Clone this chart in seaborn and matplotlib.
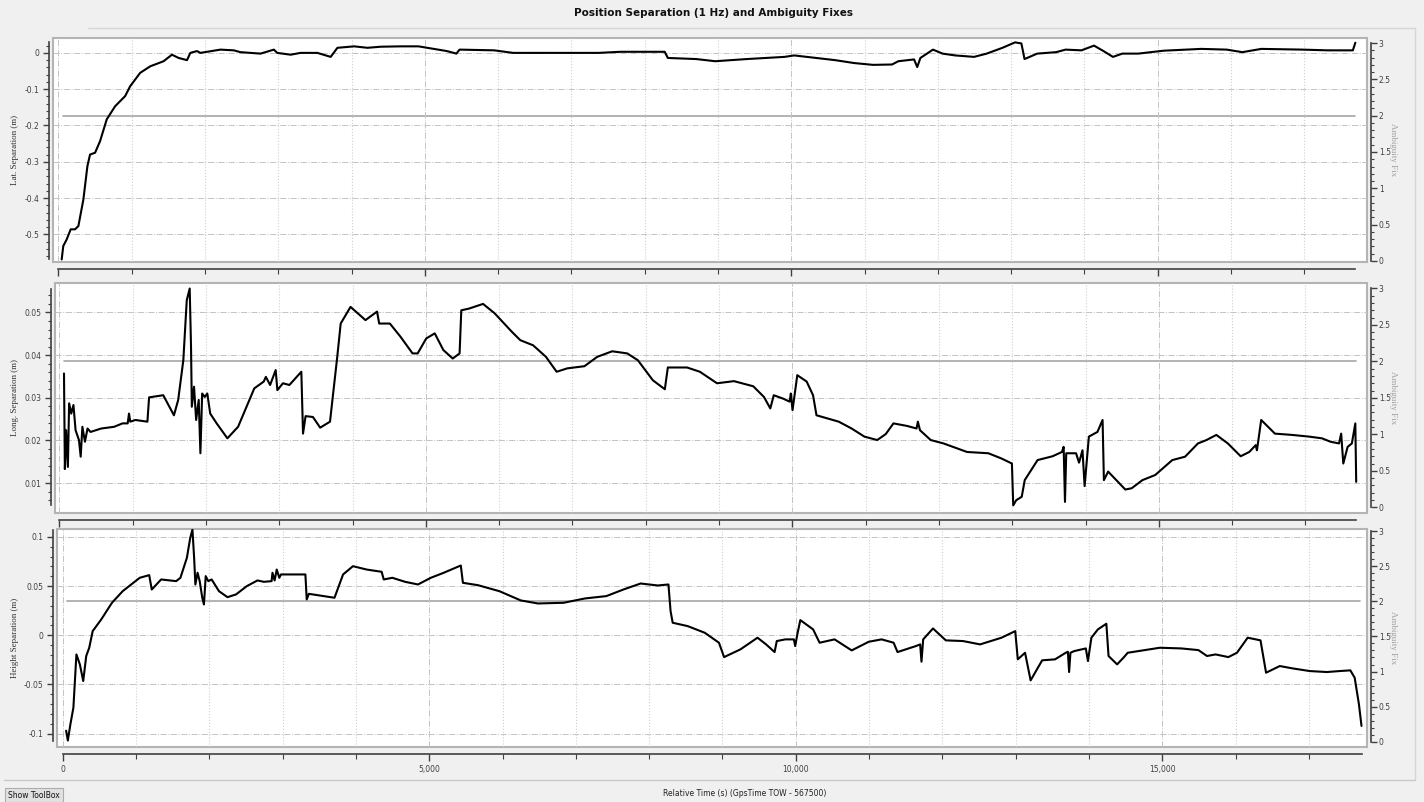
import numpy as np
import pandas as pd
import matplotlib
matplotlib.use("Agg")
import matplotlib.pyplot as plt
from matplotlib.lines import Line2D
from matplotlib.ticker import FixedLocator, FuncFormatter
import seaborn as sns

sns.set_theme(style="white")
plt.rcParams["font.family"] = ["DejaVu Sans"]

# ---- values ----
lat_time = [46, 68, 114, 169, 228, 274, 342, 397, 433, 502, 570, 661, 775, 912, 980,
            1117, 1254, 1436, 1550, 1642, 1756, 1801, 1892, 1938, 2212, 2394, 2485,
            2759, 2941, 2987, 3169, 3306, 3534, 3716, 3808, 4036, 4218, 4400, 4674,
            4914, 5301, 5431, 5474, 5947, 6206, 6981, 7369, 7670, 8273, 8316, 8704,
            8962, 9393, 9651, 9909, 10039, 10125, 10598, 10857, 11115, 11374, 11460,
            11675, 11718, 11761, 11933, 12063, 12235, 12493, 12666, 12881, 13053,
            13139, 13182, 13355, 13613, 13742, 13958, 14130, 14259, 14388, 14517,
            14733, 15077, 15594, 15939, 16154, 16412, 16972, 17317, 17661, 17695]
lat_sep = [-0.569, -0.532, -0.514, -0.486, -0.486, -0.477, -0.404, -0.312, -0.280,
           -0.275, -0.243, -0.183, -0.147, -0.119, -0.092, -0.055, -0.037, -0.023,
           -0.005, -0.014, -0.020, 0.0, 0.005, 0.0, 0.009, 0.007, 0.002, -0.002,
           0.009, 0.0, -0.005, 0.0, 0.0, -0.011, 0.014, 0.018, 0.014, 0.017, 0.018,
           0.018, 0.005, -0.002, 0.009, 0.007, 0.0, 0.0, 0.0, 0.003, 0.003, -0.014,
           -0.017, -0.023, -0.017, -0.014, -0.011, -0.007, -0.009, -0.020, -0.028,
           -0.033, -0.032, -0.023, -0.018, -0.039, -0.014, 0.009, -0.002, -0.007,
           -0.011, -0.002, 0.014, 0.029, 0.026, -0.017, -0.002, 0.002, 0.009, 0.007,
           0.020, 0.005, -0.011, -0.002, -0.002, 0.006, 0.011, 0.009, 0.002, 0.011,
           0.009, 0.007, 0.007, 0.028]

long_time = [64, 76, 93, 117, 134, 163, 193, 222, 268, 292, 315, 350, 385, 426, 572,
             747, 863, 933, 951, 968, 1038, 1202, 1225, 1418, 1564, 1622, 1692, 1739,
             1779, 1797, 1808, 1838, 1867, 1902, 1925, 1949, 1984, 2019, 2059, 2147,
             2293, 2439, 2660, 2789, 2818, 2876, 2952, 2975, 3051, 3139, 3302, 3325,
             3360, 3460, 3559, 3693, 3792, 3839, 3973, 4072, 4177, 4335, 4364, 4510,
             4655, 4819, 4889, 5006, 5122, 5239, 5367, 5461, 5484, 5589, 5781, 5939,
             6172, 6289, 6464, 6639, 6785, 6931, 7164, 7339, 7543, 7748, 7893, 8098,
             8261, 8302, 8564, 8739, 8973, 9204, 9467, 9613, 9700, 9747, 9875, 9963,
             9980, 10003, 10068, 10196, 10283, 10330, 10634, 10809, 10984, 11159,
             11275, 11380, 11567, 11695, 11713, 11742, 11888, 12063, 12384, 12675,
             12850, 12996, 13014, 13055, 13130, 13171, 13346, 13551, 13678, 13702,
             13720, 13737, 13871, 13912, 13959, 13988, 14046, 14163, 14233, 14251,
             14309, 14543, 14630, 14776, 14951, 15184, 15359, 15534, 15651, 15785,
             15942, 16117, 16234, 16322, 16339, 16397, 16584, 16818, 17051, 17226,
             17343, 17459, 17488, 17517, 17576, 17634, 17681, 17693]
long_sep = [0.0357, 0.0133, 0.0224, 0.0138, 0.0287, 0.0263, 0.0283, 0.0224, 0.0201,
            0.0162, 0.0232, 0.0197, 0.0228, 0.0220, 0.0228, 0.0232, 0.0240, 0.0240,
            0.0263, 0.0244, 0.0248, 0.0244, 0.0301, 0.0306, 0.0259, 0.0295, 0.0388,
            0.0529, 0.0556, 0.0420, 0.0279, 0.0326, 0.0248, 0.0295, 0.0170, 0.0310,
            0.0302, 0.0310, 0.0263, 0.0240, 0.0205, 0.0232, 0.0322, 0.0338, 0.0349,
            0.0330, 0.0365, 0.0318, 0.0334, 0.0330, 0.0361, 0.0216, 0.0257, 0.0255,
            0.0230, 0.0244, 0.0396, 0.0474, 0.0513, 0.0498, 0.0482, 0.0502, 0.0474,
            0.0474, 0.0443, 0.0404, 0.0404, 0.0439, 0.0451, 0.0412, 0.0392, 0.0404,
            0.0505, 0.0509, 0.0520, 0.0498, 0.0455, 0.0435, 0.0423, 0.0396, 0.0361,
            0.0369, 0.0374, 0.0396, 0.0409, 0.0404, 0.0388, 0.0341, 0.0320, 0.0371,
            0.0371, 0.0361, 0.0334, 0.0339, 0.0327, 0.0302, 0.0275, 0.0306, 0.0298,
            0.0291, 0.0310, 0.0271, 0.0353, 0.0338, 0.0306, 0.0259, 0.0244, 0.0228,
            0.0209, 0.0201, 0.0215, 0.0240, 0.0234, 0.0228, 0.0244, 0.0224, 0.0201,
            0.0193, 0.0173, 0.0170, 0.0158, 0.0146, 0.0048, 0.0060, 0.0068, 0.0107,
            0.0154, 0.0163, 0.0173, 0.0185, 0.0056, 0.0170, 0.0170, 0.0148, 0.0177,
            0.0093, 0.0209, 0.0220, 0.0248, 0.0107, 0.0127, 0.0085, 0.0088, 0.0107,
            0.0119, 0.0154, 0.0162, 0.0193, 0.0201, 0.0213, 0.0193, 0.0163, 0.0173,
            0.0189, 0.0177, 0.0248, 0.0216, 0.0213, 0.0209, 0.0205, 0.0197, 0.0193,
            0.0216, 0.0146, 0.0185, 0.0193, 0.0240, 0.0103]

height_time = [47, 70, 105, 146, 187, 234, 280, 321, 362, 409, 526, 672, 818, 934, 1051,
               1180, 1215, 1343, 1548, 1606, 1694, 1740, 1770, 1793, 1810, 1840, 1869,
               1904, 1927, 1951, 1986, 2032, 2132, 2248, 2365, 2511, 2657, 2745, 2850,
               2862, 2891, 2920, 2955, 2978, 3311, 3329, 3358, 3708, 3825, 3960, 4146,
               4351, 4380, 4497, 4672, 4847, 5022, 5198, 5431, 5460, 5665, 5957, 6249,
               6482, 6833, 7125, 7417, 7650, 7884, 8118, 8264, 8293, 8322, 8526, 8760,
               8953, 9023, 9245, 9479, 9596, 9712, 9742, 9858, 9975, 9993, 10022, 10063,
               10238, 10326, 10530, 10764, 10997, 11172, 11336, 11389, 11640, 11698,
               11716, 11739, 11873, 12048, 12282, 12516, 12808, 12995, 13030, 13129,
               13205, 13362, 13538, 13684, 13713, 13730, 13748, 13800, 13958, 13987,
               14034, 14122, 14238, 14268, 14385, 14472, 14530, 14676, 14968, 15260,
               15494, 15611, 15728, 15903, 16020, 16166, 16341, 16417, 16604, 16779,
               17012, 17246, 17421, 17567, 17626, 17684, 17719]
height_sep = [-0.097, -0.107, -0.0905, -0.0736, -0.0195, -0.0296, -0.0465, -0.0211,
              -0.0127, 0.0042, 0.0161, 0.0330, 0.0448, 0.0516, 0.0584, 0.0611, 0.0465,
              0.0567, 0.0550, 0.0584, 0.0787, 0.0990, 0.1074, 0.0787, 0.0516, 0.0635,
              0.0550, 0.0381, 0.0313, 0.0601, 0.0550, 0.0567, 0.0448, 0.0387, 0.0415,
              0.0499, 0.0557, 0.0543, 0.0550, 0.0635, 0.0557, 0.0668, 0.0584, 0.0618,
              0.0618, 0.0364, 0.0421, 0.0381, 0.0618, 0.0702, 0.0668, 0.0645, 0.0567,
              0.0584, 0.0543, 0.0516, 0.0584, 0.0635, 0.0709, 0.0533, 0.0509, 0.0448,
              0.0354, 0.0323, 0.0330, 0.0374, 0.0398, 0.0465, 0.0526, 0.0506, 0.0516,
              0.0245, 0.0127, 0.0093, 0.0025, -0.0076, -0.0222, -0.0144, -0.0025,
              -0.0093, -0.0171, -0.0059, -0.0042, -0.0042, -0.0110, 0.0008, 0.0154,
              0.0059, -0.0076, -0.0042, -0.0154, -0.0066, -0.0042, -0.0076, -0.0171,
              -0.0110, -0.0093, -0.0269, -0.0042, 0.0069, -0.0052, -0.0059, -0.0093,
              -0.0025, 0.0042, -0.0245, -0.0178, -0.0459, -0.0255, -0.0245, -0.0178,
              -0.0168, -0.0374, -0.0178, -0.0161, -0.0134, -0.0262, -0.0025, 0.0059,
              0.0117, -0.0211, -0.0296, -0.0228, -0.0178, -0.0161, -0.0127, -0.0134,
              -0.0151, -0.0211, -0.0195, -0.0222, -0.0178, -0.0025, -0.0052, -0.0381,
              -0.0313, -0.0337, -0.0364, -0.0374, -0.0364, -0.0357, -0.0432, -0.0702,
              -0.0922]

amb_time = [65, 17695]
amb_fix = [2, 2]

panel_labels = ["Lat. Separation (m)", "Long. Separation (m)", "Height Separation (m)"]
title = "Position Separation (1 Hz) and Ambiguity Fixes"
x_label = "Relative Time (s) (GpsTime TOW - 567500)"

# ---- layout (pixels of the 1424x802 canvas) ----
W, H = 1424, 802
PX_PER_S = 0.0733
panels = [
    # frame (left, top, right, bottom), x px of t=0, ylim, major, minor, ambiguity ylim
    dict(frame=(53, 38, 1367, 262), t0=58.3, ylim=(-0.576, 0.041), major=0.1, minor=0.02,
         amb_ylim=(-0.014, 3.069)),
    dict(frame=(55, 283, 1367, 513), t0=59.3, ylim=(0.003, 0.0569), major=0.01, minor=0.002,
         amb_ylim=(-0.078, 3.073)),
    dict(frame=(57, 529, 1367, 747), t0=62.7, ylim=(-0.1136, 0.108), major=0.05, minor=0.01,
         amb_ylim=(-0.075, 3.03)),
]
series = [(lat_time, lat_sep), (long_time, long_sep), (height_time, height_sep)]

SERIF = ["Liberation Serif", "DejaVu Serif"]
AX_COL = "#404040"


def ticks_in(lo, hi, step):
    k0 = np.ceil(lo / step - 1e-6)
    k1 = np.floor(hi / step + 1e-6)
    return np.round(np.arange(k0, k1 + 1) * step, 6)


def fmt(v, pos=None):
    s = f"{round(v, 6):g}"
    return "0" if s == "-0" else s


fig = plt.figure(figsize=(W / 100, H / 100), dpi=100, facecolor="#f0f0f0")

for i, (cfg, (t, v), label) in enumerate(zip(panels, series, panel_labels)):
    l, tp, r, b = cfg["frame"]
    ax_amb = fig.add_axes([l / W, 1 - b / H, (r - l) / W, (b - tp) / H])
    ax = ax_amb.twinx()   # data axis sits on top, ambiguity axis underneath
    ax.xaxis.set_visible(True)

    xlim = ((l - cfg["t0"]) / PX_PER_S, (r - cfg["t0"]) / PX_PER_S)

    # ambiguity fix (right axis)
    ax_amb.patch.set_facecolor("white")
    ax_amb.patch.set_edgecolor("#b4b4b4")
    ax_amb.patch.set_linewidth(1.5)
    sns.lineplot(x=amb_time, y=amb_fix, ax=ax_amb, color="#a6a6a6", lw=1.2)
    ax_amb.set_xlim(*xlim)
    ax_amb.set_ylim(*cfg["amb_ylim"])
    ax_amb.yaxis.tick_right()
    ax_amb.yaxis.set_label_position("right")
    ax_amb.yaxis.set_major_locator(FixedLocator(ticks_in(0, 3, 0.5)))
    ax_amb.yaxis.set_minor_locator(FixedLocator(ticks_in(0, 3, 0.1)))
    ax_amb.yaxis.set_major_formatter(FuncFormatter(fmt))
    ax_amb.tick_params(axis="y", which="both", right=True, left=False, labelright=True,
                       labelleft=False, direction="out", colors=AX_COL, labelsize=5.5, pad=1.5)
    ax_amb.tick_params(axis="y", which="major", length=4, width=1)
    ax_amb.tick_params(axis="y", which="minor", length=2.5, width=0.8)
    for side in ["left", "top", "bottom"]:
        ax_amb.spines[side].set_visible(False)
    ax_amb.spines["right"].set_position(("outward", 3))
    ax_amb.spines["right"].set_bounds(0, 3)
    ax_amb.spines["right"].set_color(AX_COL)
    ax_amb.spines["right"].set_linewidth(1.2)
    ax_amb.set_ylabel("Ambiguity Fix", rotation=270, color="#a0a0a0", fontsize=6.5,
                      family=SERIF)
    ax_amb.yaxis.set_label_coords((1397 - l) / (r - l), 0.5)
    ax_amb.set_xlabel("")

    # separation (left axis)
    df = pd.DataFrame({"time": t, "sep": v})
    sns.lineplot(data=df, x="time", y="sep", ax=ax, color="black", lw=1.5,
                 estimator=None, sort=False)
    ax.set_xlim(*xlim)
    ax.set_ylim(*cfg["ylim"])
    ax.yaxis.tick_left()
    ax.yaxis.set_label_position("left")
    vmin, vmax = min(v), max(v)
    ax.yaxis.set_major_locator(FixedLocator(ticks_in(vmin, vmax, cfg["major"])))
    ax.yaxis.set_minor_locator(FixedLocator(ticks_in(vmin, vmax, cfg["minor"])))
    ax.yaxis.set_major_formatter(FuncFormatter(fmt))
    ax.xaxis.set_major_locator(FixedLocator([0, 5000, 10000, 15000]))
    ax.xaxis.set_minor_locator(FixedLocator([k * 1000 for k in range(1, 18) if k % 5]))
    ax.xaxis.set_major_formatter(FuncFormatter(lambda x, p: f"{int(x):,}"))

    ax.tick_params(axis="y", which="both", left=True, right=False, labelleft=True,
                   labelright=False, direction="out", colors=AX_COL, labelsize=5.5, pad=2)
    ax.tick_params(axis="y", which="major", length=4.5, width=1)
    ax.tick_params(axis="y", which="minor", length=2.5, width=0.8)
    ax.tick_params(axis="x", which="both", bottom=True, top=False, direction="out",
                   colors=AX_COL, labelsize=5.5, pad=3, labelbottom=(i == 2))
    ax.tick_params(axis="x", which="major", length=5, width=1)
    ax.tick_params(axis="x", which="minor", length=3.5, width=0.8)
    ax_amb.tick_params(axis="x", which="both", bottom=False, top=False,
                       labelbottom=False, labeltop=False)

    for side in ["top", "right"]:
        ax.spines[side].set_visible(False)
    ax.spines["left"].set_position(("outward", 3))
    ax.spines["left"].set_bounds(vmin, vmax)
    ax.spines["bottom"].set_position(("outward", 5))
    ax.spines["bottom"].set_bounds(0, max(t))
    for side in ["left", "bottom"]:
        ax.spines[side].set_color(AX_COL)
        ax.spines[side].set_linewidth(1.2)

    ax.grid(False)
    ax_amb.grid(False)
    ax.set_axisbelow(True)
    ax.grid(which="major", axis="both", ls="-.", color="#c4c4c4", lw=0.7)
    ax.grid(which="minor", axis="x", ls=":", color="#cfcfcf", lw=0.8)

    ax.set_ylabel(label, fontsize=6.5, family=SERIF, color="#333333")
    ax.yaxis.set_label_coords((19 - l) / (r - l), 0.5)
    ax.set_xlabel("")

# titles and window chrome
fig.text(713 / W, 1 - 13 / H, title, ha="center", va="center", fontsize=7.5,
         fontweight="bold", color="#111111")
fig.text(745 / W, 1 - 794 / H, x_label, ha="center", va="center", fontsize=5.5,
         color="#222222")
fig.add_artist(Line2D([88 / W, 1415 / W], [1 - 28 / H, 1 - 28 / H], color="#d6d6d6", lw=1))
fig.add_artist(Line2D([1415 / W, 1415 / W], [1 - 28 / H, 1 - 780 / H], color="#d6d6d6", lw=1))
fig.add_artist(Line2D([4 / W, 1415 / W], [1 - 780 / H, 1 - 780 / H], color="#c8c8c8", lw=1))
fig.text(34 / W, 1 - 795 / H, "Show ToolBox", ha="center", va="center", fontsize=5.5,
         color="#111111",
         bbox=dict(boxstyle="square,pad=0.35", fc="#e1e1e1", ec="#adadad", lw=0.8))

fig.savefig("out.png", dpi=100, facecolor=fig.get_facecolor())
